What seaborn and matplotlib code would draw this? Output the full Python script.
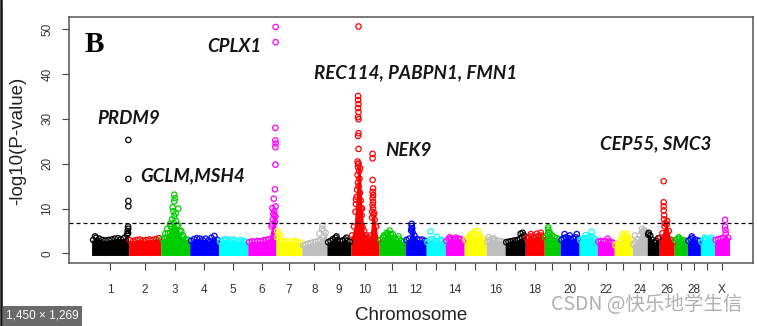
import numpy as np
import pandas as pd
import matplotlib
matplotlib.use("Agg")
import matplotlib.pyplot as plt
import seaborn as sns
from matplotlib.lines import Line2D
from matplotlib.patches import Rectangle

# ---------------- data ----------------
chrom_names = [str(i) for i in range(1, 30)] + ["X"]
chrom_len_mb = [158, 137, 124, 124, 124, 120, 111, 107, 103, 120,
                111, 90, 81, 81, 94, 81, 86, 81, 68, 81,
                77, 73, 77, 64, 51, 64, 56, 56, 60, 64]
chrom_tick_labels = ["1", "2", "3", "4", "5", "6", "7", "8", "9", "10",
                     "11", "12", "", "14", "", "16", "", "18", "", "20",
                     "", "22", "", "24", "", "26", "", "28", "", "X"]
palette_cycle = ["#000000", "#FF0000", "#00CD00", "#0000FF",
                 "#00FFFF", "#FF00FF", "#FFFF00", "#BEBEBE"]

# upper edge of the dense cloud of non-significant SNPs, evenly along each chromosome
mass_top = [
    [3.0, 3.5, 3.3, 3.0, 2.9, 3.0, 3.1, 3.3, 3.4, 3.2, 3.4, 4.2],   # 1
    [2.9, 2.8, 3.0, 3.1, 2.9, 3.0, 3.1, 3.0, 3.2, 3.4],             # 2
    [3.2, 3.5, 4.5, 6.0, 6.8, 6.2, 5.0, 3.6, 3.2, 3.0],             # 3
    [2.8, 3.2, 3.4, 3.3, 3.0, 3.3, 2.9, 3.5, 3.9, 3.0],             # 4
    [2.6, 3.0, 3.2, 2.8, 3.1, 3.0, 2.7, 3.0, 2.8, 2.6],             # 5
    [2.5, 2.7, 2.6, 2.8, 2.7, 2.9, 3.0, 3.2, 6.0, 8.5],             # 6
    [3.6, 3.0, 2.8, 2.6, 2.7, 2.5, 2.6, 2.8, 2.5, 2.4],             # 7
    [1.8, 2.0, 2.2, 2.3, 2.5, 2.6, 2.8, 3.0, 3.6, 4.6],             # 8
    [2.5, 2.8, 3.2, 3.5, 3.0, 2.7, 2.9, 3.1, 2.8, 2.6],             # 9
    [4.0, 6.0, 12.0, 20.0, 19.0, 10.0, 5.0, 4.0, 3.5, 4.0, 8.0, 9.0, 6.0, 3.0],  # 10
    [3.0, 3.5, 4.0, 4.5, 4.3, 3.5, 3.0, 3.2, 2.8, 2.6],             # 11
    [3.0, 3.3, 5.5, 4.0, 3.2, 3.0, 3.1, 2.8],                       # 12
    [2.5, 3.0, 3.2, 2.8, 2.7, 2.9, 3.0, 2.5],                       # 13
    [2.8, 3.2, 3.3, 3.2, 3.1, 3.3, 3.2, 2.8],                       # 14
    [3.0, 3.4, 3.6, 3.8, 4.0, 4.2, 3.6, 3.0],                       # 15
    [2.6, 3.0, 3.2, 3.0, 2.9, 2.8, 2.7, 2.6],                       # 16
    [2.5, 2.6, 2.7, 2.8, 2.9, 3.0, 3.2, 3.6, 4.0],                  # 17
    [3.4, 3.6, 3.8, 3.6, 3.7, 3.8, 4.0, 3.8],                       # 18
    [3.5, 4.2, 4.6, 4.0, 3.6, 3.4, 3.2],                            # 19
    [3.0, 3.4, 3.6, 3.4, 3.2, 3.3, 3.6, 3.2],                       # 20
    [3.0, 3.2, 3.3, 3.4, 3.6, 3.8, 3.4, 3.0],                       # 21
    [2.6, 2.8, 2.7, 2.6, 2.7, 2.5, 2.4],                            # 22
    [1.8, 2.2, 2.8, 3.5, 4.0, 3.8, 3.4, 3.0],                       # 23
    [2.0, 2.5, 3.2, 4.0, 4.8, 5.2, 4.5],                            # 24
    [4.2, 4.0, 3.0, 2.5, 2.8, 3.4],                                 # 25
    [3.5, 4.5, 6.0, 6.5, 5.0, 3.0, 2.5],                            # 26
    [3.0, 3.2, 3.3, 3.0, 2.9, 2.8],                                 # 27
    [2.8, 3.2, 3.4, 3.1, 2.9, 2.8],                                 # 28
    [2.6, 3.0, 3.2, 2.9, 3.1, 2.8],                                 # 29
    [3.0, 3.2, 3.3, 3.5, 4.5, 3.5],                                 # X
]

# individual SNPs standing out of the cloud
peak_chrom = (["1"] * 9 + ["3"] * 16 + ["6"] * 17 + ["7"] * 3 + ["8"] * 4 + ["9"] * 2
              + ["10"] * 41 + ["11"] * 5 + ["12"] * 5 + ["13"] * 2 + ["14"] * 2
              + ["15"] * 4 + ["16"] * 2 + ["17"] * 2 + ["18"] * 3 + ["19"] * 3
              + ["20"] * 3 + ["21"] * 2 + ["22"] * 1 + ["23"] * 2 + ["24"] * 3
              + ["25"] * 1 + ["26"] * 8 + ["27"] * 1 + ["28"] * 1 + ["29"] * 2 + ["X"] * 3)
peak_pos_mb = ([157, 157, 157, 157, 156, 156, 154, 156, 15]
               + [58, 60, 58, 51, 75, 54, 64, 58, 49, 66, 41, 75, 28, 88, 19, 96]
               + [119, 119, 118, 118, 119, 118, 118, 116, 111, 119, 105, 113, 109, 118, 107, 116, 103]
               + [6, 11, 19]
               + [88, 86, 92, 75]
               + [41, 83]
               + [32, 30, 30, 32, 30, 32, 30, 32, 32, 30, 32, 28, 32, 30, 34, 28, 36, 30, 32, 26,
                  38, 24, 41, 21, 43, 19, 45, 49, 92, 92, 92, 94, 92, 94, 92, 94, 92, 94, 90, 96, 101]
               + [19, 32, 45, 58, 83]
               + [28, 28, 30, 26, 32]
               + [19, 45] + [19, 45] + [32, 45, 58, 24] + [11, 32] + [66, 75]
               + [24, 49, 66] + [17, 17, 19] + [19, 41, 71] + [54, 28] + [45]
               + [36, 54] + [11, 41, 45] + [6]
               + [19, 19, 19, 19, 21, 21, 34, 24]
               + [19] + [19] + [19, 45] + [45, 45, 47])
peak_logp = ([25.3, 16.6, 11.7, 10.5, 6.0, 5.5, 5.0, 4.5, 3.8]
             + [13.1, 12.3, 11.6, 10.3, 10.0, 9.4, 8.9, 8.3, 7.6, 7.2, 6.6, 6.3, 5.5, 5.0, 4.4, 4.0]
             + [50.5, 47.1, 28.0, 25.2, 24.5, 23.7, 19.8, 14.3, 12.2, 10.5, 10.1, 9.4, 8.8, 8.2, 7.6, 7.0, 6.5]
             + [5.0, 4.4, 4.0]
             + [6.2, 5.5, 5.0, 4.4]
             + [3.8, 3.5]
             + [50.6, 35.1, 34.2, 33.3, 32.4, 31.5, 30.4, 29.9, 26.8, 26.2, 23.3, 20.5, 20.0, 19.2,
                18.3, 17.5, 16.7, 15.8, 15.0, 14.2, 13.5, 12.6, 11.8, 11.0, 10.1, 9.3, 8.5, 5.9,
                22.2, 21.2, 16.4, 14.5, 13.7, 13.0, 12.3, 11.5, 10.8, 10.1, 9.3, 8.6, 7.5]
             + [4.0, 4.6, 5.1, 4.3, 3.8]
             + [6.6, 6.1, 5.6, 5.1, 4.7]
             + [4.9, 3.7] + [3.6, 3.5] + [4.4, 4.9, 5.0, 4.0] + [3.6, 3.4] + [4.4, 4.6]
             + [4.3, 4.4, 4.6] + [5.8, 5.3, 4.8] + [4.3, 4.0, 4.3] + [4.8, 4.1] + [3.3]
             + [4.3, 4.4] + [4.0, 5.5, 4.9] + [4.6]
             + [16.1, 11.4, 10.5, 9.6, 8.5, 7.6, 7.2, 6.7]
             + [3.6] + [3.8] + [3.5, 3.5] + [7.5, 6.0, 5.2])

threshold = 6.7
gene_labels = ["PRDM9", "GCLM,MSH4", "CPLX1", "REC114, PABPN1, FMN1", "NEK9", "CEP55, SMC3"]

# ---------------- layout helpers ----------------
W, H = 757, 326
lens = np.array(chrom_len_mb, dtype=float)
starts = np.concatenate([[0.0], np.cumsum(lens)[:-1]])
mids = starts + lens / 2
total = lens.sum()
start_of = dict(zip(chrom_names, starts))
color_of = {c: palette_cycle[i % len(palette_cycle)] for i, c in enumerate(chrom_names)}

rows = []
for i, c in enumerate(chrom_names):
    n = len(mass_top[i])
    for k, v in enumerate(mass_top[i]):
        rows.append((c, starts[i] + (k + 0.5) / n * lens[i], v))
mass_df = pd.DataFrame(rows, columns=["chrom", "x", "logp"])
peak_df = pd.DataFrame({"chrom": peak_chrom, "pos": peak_pos_mb, "logp": peak_logp})
peak_df["x"] = peak_df["pos"] + peak_df["chrom"].map(start_of)
all_df = pd.concat([mass_df, peak_df[["chrom", "x", "logp"]]], ignore_index=True)
all_df["order"] = all_df["chrom"].map({c: i for i, c in enumerate(chrom_names)})
all_df = all_df.sort_values(["order", "logp"], kind="stable").reset_index(drop=True)

# ---------------- figure ----------------
sns.set_theme(style="white")
plt.rcParams["font.family"] = ["Liberation Sans", "DejaVu Sans"]
fig = plt.figure(figsize=(W / 100, H / 100), dpi=100)
fig.patch.set_facecolor("white")
ax_l, ax_r, ax_t, ax_b = 69, 753, 17.5, 263.3
ax = fig.add_axes([ax_l / W, 1 - ax_b / H, (ax_r - ax_l) / W, (ax_b - ax_t) / H])

# dense cloud of SNPs
for i, c in enumerate(chrom_names):
    sub = mass_df[mass_df.chrom == c]
    xs = np.concatenate([[starts[i]], sub.x.values, [starts[i] + lens[i]]])
    ys = np.concatenate([[sub.logp.values[0]], sub.logp.values, [sub.logp.values[-1]]])
    ax.fill_between(xs, -0.45, ys, color=color_of[c], lw=0, zorder=1)

sns.scatterplot(data=all_df, x="x", y="logp", hue="chrom", palette=color_of,
                s=15, linewidth=0.9, legend=False, ax=ax, zorder=2)
coll = ax.collections[-1]
fcs = coll.get_facecolors()
coll.set_edgecolors(fcs)
coll.set_facecolors("none")

ax.axhline(threshold, color="black", lw=0.9, ls=(0, (3.2, 2.4)), zorder=3)

pad_l = 0.0354 * total
pad_r = 0.0369 * total
ax.set_xlim(-pad_l, total + pad_r)
ax.set_ylim(-2.2, 52.6)
ax.set_xticks(mids)
ax.set_xticklabels(chrom_tick_labels)
ax.set_yticks([0, 10, 20, 30, 40, 50])
ax.set_yticklabels(["0", "10", "20", "30", "40", "50"], rotation=90, va="center")
ax.tick_params(axis="both", which="major", direction="out", length=5.2, width=0.8,
               color="#444444", labelcolor="#333333", labelsize=8.5,
               bottom=True, left=True)
ax.tick_params(axis="x", pad=9.5)
ax.tick_params(axis="y", pad=6)
for s in ax.spines.values():
    s.set_color("#555555")
    s.set_linewidth(1.1)
ax.set_xlabel("Chromosome", fontsize=13.5, color="#222222")
ax.set_ylabel("-log10(P-value)", fontsize=13.5, color="#222222")
ax.xaxis.set_label_coords(0.5, (ax_b - 316) / (ax_b - ax_t))
ax.yaxis.set_label_coords((18 - ax_l) / (ax_r - ax_l), 0.5)
ax.xaxis.label.set_va("center")
ax.yaxis.label.set_va("center")

# panel letter and gene annotations
fig.text(85 / W, 1 - 44 / H, "B", family="Liberation Serif", weight="bold",
         fontsize=21, ha="left", va="center", color="black")
gene_xy = [(97, 119), (140, 176), (207, 47), (314, 73), (385, 150), (600, 144)]
for lab, (px, py) in zip(gene_labels, gene_xy):
    fig.text(px / W, 1 - py / H, lab, family=["Lato", "DejaVu Sans"], weight="bold",
             style="italic", fontsize=13.5, ha="left", va="center", color="#161616")

# screenshot decorations
fig.add_artist(Line2D([1.2 / W, 1.2 / W], [0, 1], color="#111111", lw=1.8,
                      transform=fig.transFigure))
fig.add_artist(Rectangle((3 / W, 0), 79 / W, 20 / H, transform=fig.transFigure,
                         facecolor="#6a6a6a", edgecolor="none"))
fig.text(42.5 / W, 10 / H, "1,450 × 1,269", color="white", fontsize=8.5,
         ha="center", va="center", family=["Liberation Sans", "DejaVu Sans"])
fig.text(742 / W, 1 - 305 / H, "CSDN @快乐地学生信", color="#b0b0b0", fontsize=14,
         ha="right", va="center", family=["Noto Sans CJK SC", "DejaVu Sans"])

fig.savefig("out.png", dpi=100, facecolor="white")
